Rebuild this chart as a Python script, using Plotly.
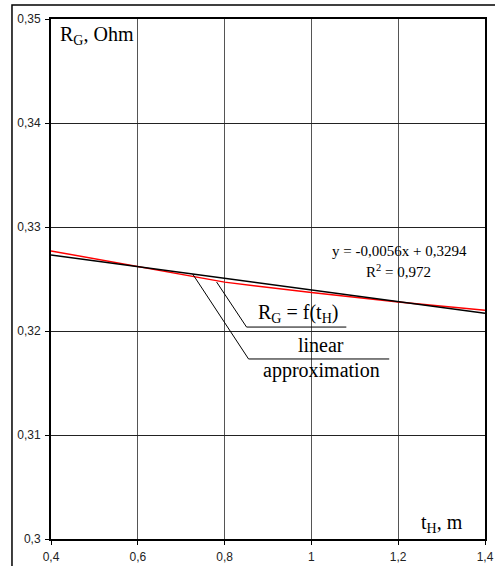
import plotly.graph_objects as go

# measured resistance R_G = f(t_H)
t_h = [0.4, 0.6, 0.8, 1.0, 1.2, 1.4]
r_g = [0.3277, 0.3262, 0.3247, 0.3237, 0.3228, 0.3220]

# linear approximation (trendline) end points
fit_t = [0.4, 1.4]
fit_r = [0.3273, 0.3217]

x_ticks = [0.4, 0.6, 0.8, 1.0, 1.2, 1.4]
x_labels = ["0,4", "0,6", "0,8", "1", "1,2", "1,4"]
y_ticks = [0.30, 0.31, 0.32, 0.33, 0.34, 0.35]
y_labels = ["0,3", "0,31", "0,32", "0,33", "0,34", "0,35"]

serif = "Liberation Serif"
sans = "Liberation Sans"

fig = go.Figure()
fig.add_trace(go.Scatter(x=t_h, y=r_g, mode="lines",
                         line=dict(color="#ff0000", width=1.5), showlegend=False))
fig.add_trace(go.Scatter(x=fit_t, y=fit_r, mode="lines",
                         line=dict(color="#000000", width=1.5), showlegend=False))

# leader lines to labels
fig.add_shape(type="path", path="M 0.7264 0.32548 L 0.8552 0.31731 L 1.1793 0.31731",
              xref="x", yref="y", line=dict(color="black", width=1))
fig.add_shape(type="path", path="M 0.7816 0.32471 L 0.8506 0.32038 L 1.0805 0.32038",
              xref="x", yref="y", line=dict(color="black", width=1))

# outer frame
fig.add_shape(type="rect", xref="paper", yref="paper", x0=-0.0899, y0=-0.1, x1=1.1, y1=1.0269,
              line=dict(color="black", width=1.5), layer="below")

def note(text, x, y, size, xanchor="center"):
    fig.add_annotation(text=text, x=x, y=y, xref="x", yref="y", showarrow=False,
                       xanchor=xanchor, yanchor="middle",
                       font=dict(family=serif, size=size, color="black"))

note("R<sub>G</sub>, Ohm", 0.416, 0.3484, 20, "left")
note("t<sub>H</sub>, m", 1.248, 0.3015, 20, "left")
note("R<sub>G</sub> = f(t<sub>H</sub>)", 0.970, 0.3217, 20)
note("linear", 1.023, 0.31865, 20)
note("approximation", 1.023, 0.31625, 20)
note("y = -0,0056x + 0,3294", 1.2023, 0.32769, 15)
note("R<sup>2</sup> = 0,972", 1.2, 0.32577, 15)

fig.update_layout(
    width=495, height=566,
    margin=dict(l=51, r=10, t=19, b=27),
    paper_bgcolor="white", plot_bgcolor="white",
    font=dict(family=sans, size=12, color="#222"),
    xaxis=dict(range=[0.4, 1.4], tickvals=x_ticks, ticktext=x_labels,
               showgrid=True, gridcolor="#555", gridwidth=1,
               showline=True, linecolor="black", linewidth=1.5, mirror=True,
               ticks="outside", ticklen=4, tickcolor="black", zeroline=False,
               ticklabelstandoff=2, automargin=False),
    yaxis=dict(range=[0.30, 0.35], tickvals=y_ticks, ticktext=y_labels,
               showgrid=True, gridcolor="#222", gridwidth=1,
               showline=True, linecolor="black", linewidth=2, mirror=True,
               ticks="outside", ticklen=4, tickcolor="black", zeroline=False,
               ticklabelstandoff=2, automargin=False),
)

# page has a default body margin; drop it so the figure sits at the window corner
fig.write_html("out.html", config={"displayModeBar": False},
               post_script="document.body.style.margin='0';")
